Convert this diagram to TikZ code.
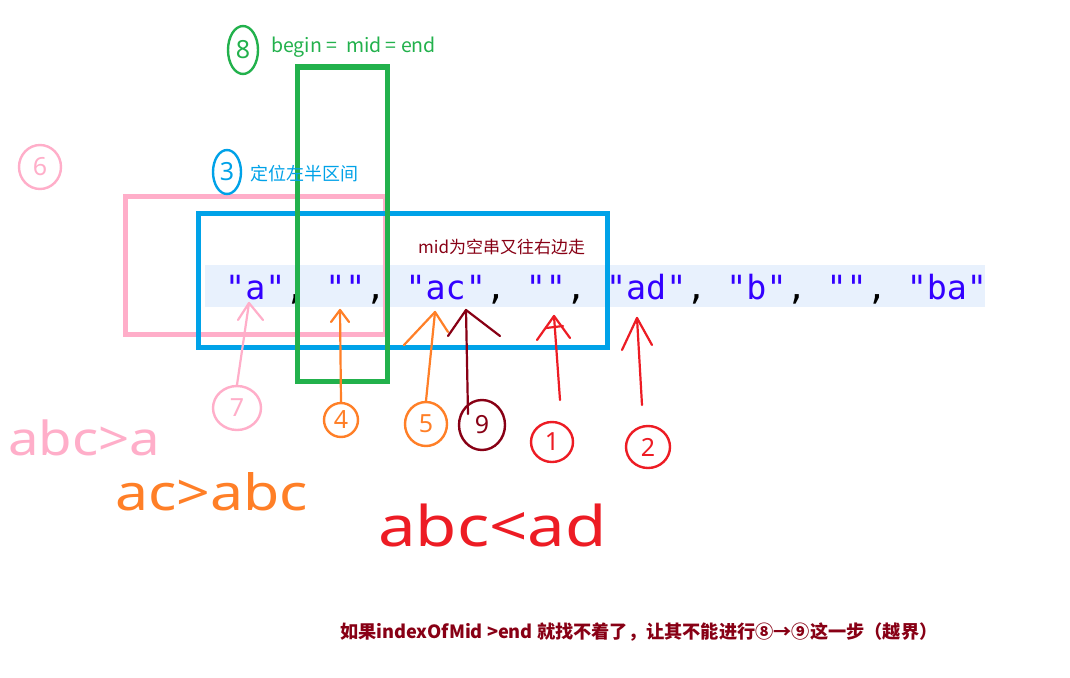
\documentclass[tikz,border=0pt]{standalone}
\usepackage{fontspec}
\setmainfont{Noto Sans CJK SC}
\newfontfamily\codefont{DejaVu Sans Mono}
\newfontfamily\handfont{Noto Sans}
\usetikzlibrary{calc,shapes.geometric}
\definecolor{pinkc}{HTML}{FFAEC9}
\definecolor{bluec}{HTML}{00A2E8}
\definecolor{greenc}{HTML}{22B14C}
\definecolor{orangec}{HTML}{FF7F27}
\definecolor{redc}{HTML}{ED1C24}
\definecolor{darkredc}{HTML}{880015}
\definecolor{codeblue}{HTML}{3300FF}
\definecolor{bandc}{HTML}{E8F1FD}
\begin{document}
\begin{tikzpicture}[x=1pt,y=-1pt,
  frame/.style={line width=5pt},
  stroke/.style={line width=2.2pt,line cap=round,line join=round},
  circnum/.style={draw,ellipse,line width=2.4pt,inner sep=0pt,font=\handfont\fontsize{25}{25}\selectfont},
  hand/.style={font=\handfont\fontsize{#1}{#1}\selectfont,inner sep=0pt},
  note/.style={font=\fontsize{#1}{#1}\selectfont,inner sep=0pt,anchor=west}
]
\useasboundingbox (0,0) rectangle (1070,677);
\fill[white] (0,0) rectangle (1070,677);
% code band
\fill[bandc] (205,265) rectangle (985,307);
\node[anchor=base west,inner sep=0pt,font=\codefont\fontsize{33.3}{33.3}\selectfont] (code) at (225,299)
 {\textcolor{codeblue}{"a"},\ \textcolor{codeblue}{""},\ \textcolor{codeblue}{"ac"},\ \textcolor{codeblue}{""},\ \textcolor{codeblue}{"ad"},\ \textcolor{codeblue}{"b"},\ \textcolor{codeblue}{""},\ \textcolor{codeblue}{"ba"}};
% frames
\draw[frame,pinkc] (125,196) rectangle (385,334);
\draw[frame,bluec] (198,213) rectangle (607,347);
\draw[frame,greenc] (297,67) rectangle (387,381);
% top labels
\node[circnum,greenc,minimum width=30pt,minimum height=48pt] (c8) at (243,50) {8};
\node[note=19.5,text=greenc] (t8) at (271,47) {begin =\ \ mid = end};
\node[circnum,bluec,minimum width=28pt,minimum height=44pt] (c3) at (227,172) {3};
\node[note=18,text=bluec] (t3) at (250,174) {定位左半区间};
\node[circnum,pinkc,minimum width=42pt,minimum height=44pt] (c6) at (40,167) {6};
\node[note=17,text=darkredc] (tmid) at (418,247) {mid为空串又往右边走};
% pink 7
\node[circnum,pinkc,minimum width=48pt,minimum height=44pt] (c7) at (237,408) {7};
\coordinate (a7) at (249,303);
\draw[stroke,pinkc] (c7.north) -- (a7);
\draw[stroke,pinkc] (238,320) -- (a7) -- (263,320);
% orange 4
\node[circnum,orangec,minimum width=34pt,minimum height=34pt] (c4) at (341,420) {4};
\coordinate (a4) at (340,310);
\draw[stroke,orangec] (c4.north) -- (a4);
\draw[stroke,orangec] (331,322) -- (a4) -- (349,322);
% orange 5
\node[circnum,orangec,minimum width=42pt,minimum height=44pt] (c5) at (426,424) {5};
\coordinate (a5) at (435,312);
\draw[stroke,orangec] (c5.north) -- (a5);
\draw[stroke,orangec] (404,345) -- (a5) -- (448,332);
% dark red 9
\node[circnum,darkredc,minimum width=46pt,minimum height=50pt] (c9) at (482,425) {9};
\coordinate (a9) at (466,310);
\draw[stroke,darkredc] (468,414) -- (a9);
\draw[stroke,darkredc] (448,336) -- (a9) -- (500,336);
% red 1
\node[circnum,redc,minimum width=42pt,minimum height=40pt] (c1) at (552,442) {1};
\coordinate (a1) at (554,316);
\draw[stroke,redc] (560,400) -- (a1);
\draw[stroke,redc] (537,340) -- (a1) -- (570,338);
\draw[stroke,redc] (546,328) -- (563,326);
% red 2
\node[circnum,redc,minimum width=44pt,minimum height=42pt] (c2) at (648,447) {2};
\coordinate (a2) at (637,318);
\draw[stroke,redc] (642,405) -- (a2);
\draw[stroke,redc] (622,350) -- (a2) -- (652,345);
% handwritten comparisons
\node[hand=47,text=pinkc,anchor=base west,xscale=1.16] (h1) at (8,455) {abc>a};
\node[hand=50,text=orangec,anchor=base west,xscale=1.18] (h2) at (115,510) {ac>abc};
\node[hand=56,text=redc,anchor=base west,xscale=1.2] (h3) at (378,546) {abc<ad};
% bottom note
\node[anchor=west,inner sep=0pt,text=darkredc,font=\bfseries\fontsize{18.2}{18.2}\selectfont] (bottom) at (340,632)
 {如果indexOfMid >end 就找不着了，让其不能进行⑧→⑨这一步（越界）};
\end{tikzpicture}
\end{document}
